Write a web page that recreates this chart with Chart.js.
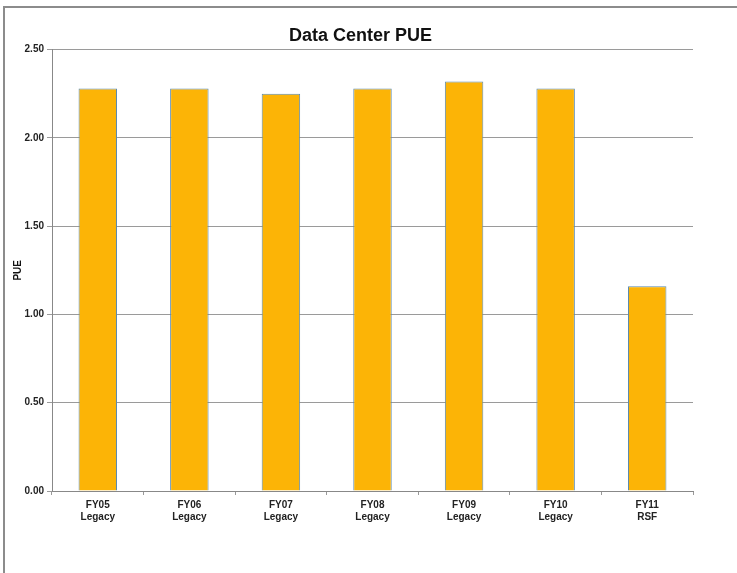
<!DOCTYPE html>
<html>
<head>
<meta charset="utf-8">
<style>
  html, body { margin: 0; padding: 0; background: #fff; }
  #wrap { position: relative; width: 737px; height: 573px; }
  #frame { position: absolute; left: 3px; top: 6px; right: 0; bottom: 0;
           border-top: 2px solid #8c8c8c; border-left: 2px solid #8c8c8c; pointer-events: none; }
  canvas { position: absolute; left: 0; top: 0; }
</style>
<script src="https://cdn.jsdelivr.net/npm/chart.js@4.4.0/dist/chart.umd.min.js"></script>
</head>
<body>
<div id="wrap">
  <canvas id="myChart" width="737" height="573"></canvas>
  <div id="frame"></div>
</div>
<script>
const categories = [
  ['FY05', 'Legacy'],
  ['FY06', 'Legacy'],
  ['FY07', 'Legacy'],
  ['FY08', 'Legacy'],
  ['FY09', 'Legacy'],
  ['FY10', 'Legacy'],
  ['FY11', 'RSF']
];
const pueValues = [2.28, 2.28, 2.25, 2.28, 2.32, 2.28, 1.16];

const ctx = document.getElementById('myChart').getContext('2d');
const font = 'Liberation Sans, Arial, sans-serif';

new Chart(ctx, {
  type: 'bar',
  data: {
    labels: categories,
    datasets: [{
      label: 'PUE',
      data: pueValues,
      backgroundColor: '#fcb406',
      borderColor: '#5a8ab0',
      borderWidth: 1,
      borderSkipped: 'bottom',
      categoryPercentage: 1,
      barPercentage: 0.42
    }]
  },
  options: {
    responsive: false,
    animation: false,
    layout: { padding: { left: 0, right: 16, top: 0, bottom: 0 } },
    plugins: {
      legend: { display: false },
      tooltip: { enabled: false },
      title: {
        display: true,
        text: 'Data Center PUE',
        color: '#111',
        font: { family: font, size: 18, weight: 'bold' },
        padding: { top: 25, bottom: 3 }
      }
    },
    scales: {
      x: {
        grid: {
          display: true,
          offset: true,
          drawOnChartArea: false,
          drawTicks: true,
          tickLength: 4,
          color: '#999'
        },
        border: { display: true, color: '#888', width: 1 },
        ticks: {
          color: '#222',
          padding: 4,
          maxRotation: 0,
          font: { family: font, size: 10, weight: 'bold' }
        },
        afterFit: (s) => { s.height = 82; }
      },
      y: {
        min: 0,
        max: 2.5,
        grid: { color: '#9a9a9a', tickLength: 5, lineWidth: 1 },
        border: { display: true, color: '#888', width: 1 },
        ticks: {
          stepSize: 0.5,
          color: '#222',
          padding: 3,
          font: { family: font, size: 10, weight: 'bold' },
          callback: (v) => v.toFixed(2)
        },
        title: {
          display: true,
          text: 'PUE',
          color: '#111',
          padding: { top: 12, bottom: 4 },
          font: { family: font, size: 10, weight: 'bold' }
        },
        afterFit: (s) => { s.width = 52; }
      },
      y2: {
        position: 'right',
        display: true,
        grid: { display: false },
        border: { display: false },
        ticks: { display: false },
        afterFit: (s) => { s.width = 28; }
      }
    }
  }
});
</script>
</body>
</html>
